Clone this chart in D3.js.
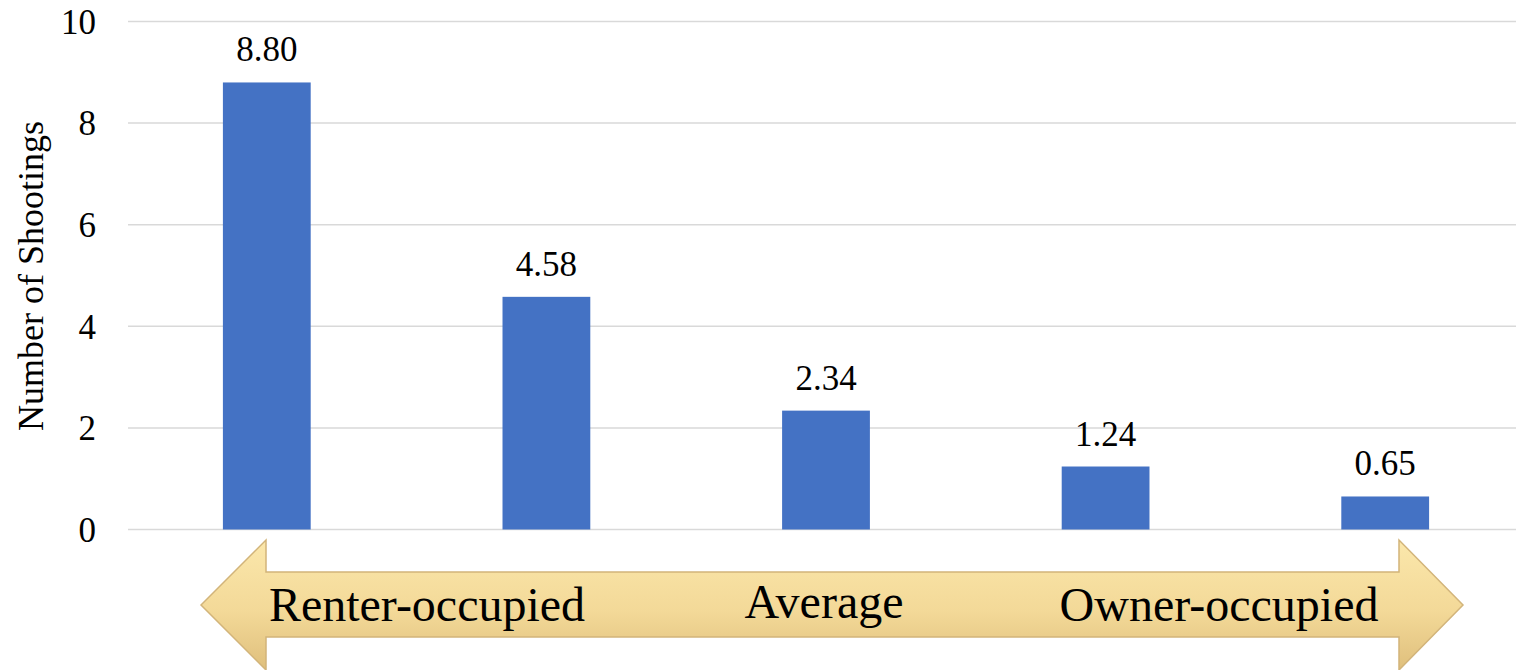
<!DOCTYPE html>
<html>
<head>
<meta charset="utf-8">
<script src="https://cdn.jsdelivr.net/npm/d3@7"></script>
<style>
  body { margin: 0; background: #fff; }
</style>
</head>
<body>
<svg id="chart" width="1516" height="670"></svg>
<script>
// data
var categories = ["c1", "c2", "c3", "c4", "c5"];
var values = [8.80, 4.58, 2.34, 1.24, 0.65];
var yTicks = [0, 2, 4, 6, 8, 10];
var arrowLabels = ["Renter-occupied", "Average", "Owner-occupied"];

var serif = "'Liberation Serif', 'Times New Roman', Times, serif";

var svg = d3.select("#chart"),
    width = +svg.attr("width"),
    height = +svg.attr("height");

var x = d3.scaleBand().domain(categories).range([127, 1525]).paddingInner(0.686).paddingOuter(0.343),
    y = d3.scaleLinear().domain([0, 10]).range([529.5, 21.5]);

// gridlines
svg.append("g")
  .selectAll("line")
  .data(yTicks)
  .enter().append("line")
    .attr("x1", 128)
    .attr("x2", width)
    .attr("y1", function(d) { return y(d); })
    .attr("y2", function(d) { return y(d); })
    .attr("stroke", "#d9d9d9")
    .attr("stroke-width", 1.5);

// y tick labels
svg.append("g")
  .selectAll("text")
  .data(yTicks)
  .enter().append("text")
    .attr("x", 96)
    .attr("y", function(d) { return y(d); })
    .attr("dy", "0.35em")
    .attr("text-anchor", "end")
    .style("font-family", serif)
    .style("font-size", "35px")
    .text(function(d) { return d; });

// y axis title
svg.append("text")
  .attr("transform", "translate(43,276) rotate(-90)")
  .attr("text-anchor", "middle")
  .style("font-family", serif)
  .style("font-size", "36px")
  .text("Number of Shootings");

// bars
svg.selectAll(".bar")
  .data(values)
  .enter().append("rect")
    .attr("class", "bar")
    .attr("x", function(d, i) { return x(categories[i]); })
    .attr("width", x.bandwidth())
    .attr("y", function(d) { return y(d); })
    .attr("height", function(d) { return y(0) - y(d); })
    .attr("fill", "#4472c4");

// value labels
svg.selectAll(".val")
  .data(values)
  .enter().append("text")
    .attr("class", "val")
    .attr("x", function(d, i) { return x(categories[i]) + x.bandwidth() / 2; })
    .attr("y", function(d) { return y(d) - 21; })
    .attr("text-anchor", "middle")
    .style("font-family", serif)
    .style("font-size", "35px")
    .text(function(d) { return d.toFixed(2); });

// double arrow below the axis
var defs = svg.append("defs");
var grad = defs.append("linearGradient")
    .attr("id", "arrowGrad")
    .attr("x1", 0).attr("y1", 0).attr("x2", 0).attr("y2", 1);
grad.append("stop").attr("offset", "0%").attr("stop-color", "#fbe7ab");
grad.append("stop").attr("offset", "55%").attr("stop-color", "#f3d998");
grad.append("stop").attr("offset", "100%").attr("stop-color", "#dfbf7c");

var ax = { left: 201, right: 1463, headL: 266, headR: 1399, top: 540, bottom: 670, shaftTop: 572, shaftBot: 637 };
var mid = (ax.top + ax.bottom) / 2;
var pts = [
  [ax.left, mid], [ax.headL, ax.top], [ax.headL, ax.shaftTop], [ax.headR, ax.shaftTop],
  [ax.headR, ax.top], [ax.right, mid], [ax.headR, ax.bottom], [ax.headR, ax.shaftBot],
  [ax.headL, ax.shaftBot], [ax.headL, ax.bottom]
];
svg.append("path")
  .attr("d", d3.line()(pts) + "Z")
  .attr("fill", "url(#arrowGrad)")
  .attr("stroke", "#d2b47a")
  .attr("stroke-width", 1.5);

var labelX = [427, 824, 1219],
    labelY = [621, 618, 621];
svg.selectAll(".arrowLabel")
  .data(arrowLabels)
  .enter().append("text")
    .attr("class", "arrowLabel")
    .attr("x", function(d, i) { return labelX[i]; })
    .attr("y", function(d, i) { return labelY[i]; })
    .attr("text-anchor", "middle")
    .style("font-family", serif)
    .style("font-size", "48px")
    .text(function(d) { return d; });
</script>
</body>
</html>
